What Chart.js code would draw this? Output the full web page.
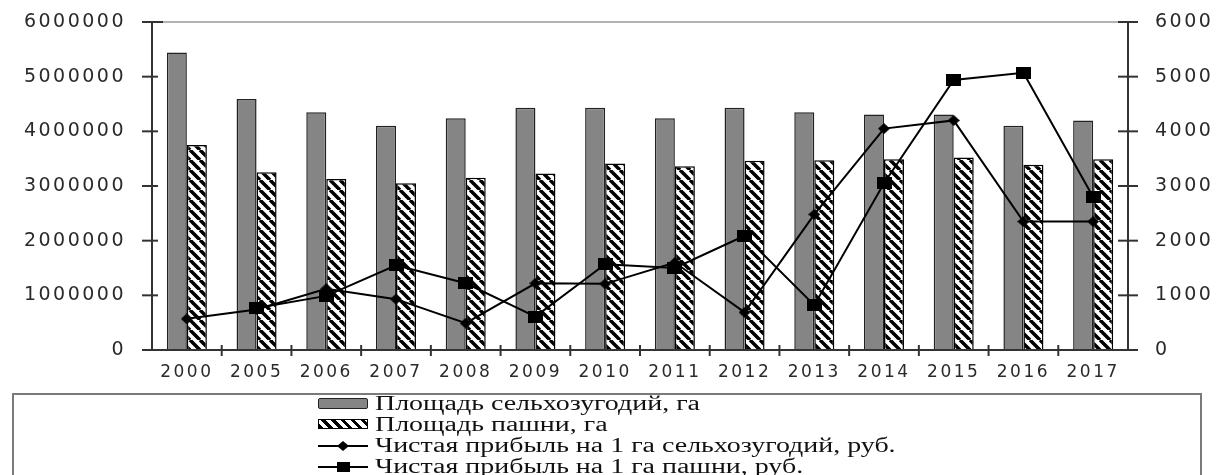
<!DOCTYPE html>
<html>
<head>
<meta charset="utf-8">
<script src="https://cdn.jsdelivr.net/npm/chart.js@4.4.1/dist/chart.umd.min.js"></script>
<style>
    html, body { margin: 0; padding: 0; background: #fff; }
    #wrap   { position: relative; width: 1221px; height: 475px; overflow: hidden; }
    #box    { position: absolute; left: 0; top: 0; width: 1221px; height: 393px; }
    #legend { position: absolute; left: 12px; top: 393px; width: 1190px; height: 100px;
              border: 2px solid #7a7a7a; box-sizing: border-box; }
    .item   { position: absolute; left: 304px; height: 21px; display: flex; align-items: center;
              font: 20px 'Liberation Serif', serif; color: #111; white-space: nowrap; }
    .icon   { width: 50px; height: 14px; margin-right: 7px; flex: none; }
    .txt    { display: inline-block; transform-origin: left center; }
</style>
</head>
<body>
<div id="wrap">
    <div id="box"><canvas id="chart"></canvas></div>
    <div id="legend"></div>
</div>
<script>
/* ── Données ─────────────────────────────────────────────────── */
const years       = ['2000', '2005', '2006', '2007', '2008', '2009', '2010',
                     '2011', '2012', '2013', '2014', '2015', '2016', '2017'];
const areaAgri    = [5440000, 4590000, 4350000, 4100000, 4240000, 4430000, 4430000,
                     4240000, 4430000, 4350000, 4310000, 4310000, 4100000, 4200000];
const areaArable  = [3750000, 3250000, 3130000, 3050000, 3150000, 3230000, 3410000,
                     3360000, 3460000, 3470000, 3490000, 3520000, 3390000, 3490000];
const profitAgri  = [570, 740, 1120, 930, 490, 1220, 1210,
                     1600, 690, 2480, 4050, 4200, 2350, 2350];
const profitArable = [null, 770, 990, 1550, 1220, 610, 1570,
                      1500, 2090, 820, 3050, 4940, 5070, 2800];
const leftTicks   = [0, 1000000, 2000000, 3000000, 4000000, 5000000, 6000000];
const rightTicks  = [0, 1000, 2000, 3000, 4000, 5000, 6000];
const labels      = ['Площадь сельхозугодий, га',
                     'Площадь пашни,  га',
                     'Чистая прибыль на 1 га сельхозугодий, руб.',
                     'Чистая прибыль на 1 га пашни, руб.'];

/* ── Motifs et marqueurs ─────────────────────────────────────── */
function hatchPattern() {
    const c = document.createElement('canvas');
    c.width = 10; c.height = 10;
    const g = c.getContext('2d');
    g.fillStyle = '#fff';
    g.fillRect(0, 0, 10, 10);
    g.strokeStyle = '#000';
    g.lineWidth = 3.5;
    g.beginPath();
    for (const o of [-10, 0, 10]) { g.moveTo(o, 0); g.lineTo(o + 10, 10); }
    g.stroke();
    return g.createPattern(c, 'repeat');
}

function marker(w, h, diamond) {
    const c = document.createElement('canvas');
    c.width = w; c.height = h;
    const g = c.getContext('2d');
    g.fillStyle = '#000';
    if (diamond) {
        g.beginPath();
        g.moveTo(w / 2, 0); g.lineTo(w, h / 2); g.lineTo(w / 2, h); g.lineTo(0, h / 2);
        g.closePath(); g.fill();
    } else {
        g.fillRect(0, 0, w, h);
    }
    return c;
}

/* ── Axes dessinés à la main (traits qui croisent l'axe) ─────── */
const framePlugin = {
    id: 'frame',
    beforeDraw(chart) { chart.ctx.letterSpacing = '2.5px'; },
    afterDatasetsDraw(chart) {
        const { ctx, chartArea: a, scales } = chart;
        const seg = (x1, y1, x2, y2) => { ctx.beginPath(); ctx.moveTo(x1, y1); ctx.lineTo(x2, y2); ctx.stroke(); };
        ctx.save();
        ctx.strokeStyle = '#9a9a9a';
        ctx.lineWidth = 1.5;
        seg(a.left, a.top, a.right, a.top);
        ctx.strokeStyle = '#333';
        ctx.lineWidth = 2;
        seg(a.left, a.top, a.left, a.bottom);
        seg(a.right, a.top, a.right, a.bottom);
        seg(a.left, a.bottom, a.right, a.bottom);
        leftTicks.forEach(v => {
            const y = scales.y.getPixelForValue(v);
            seg(a.left - 10, y, a.left + (v === leftTicks[leftTicks.length - 1] ? 11 : 6), y);
        });
        rightTicks.forEach(v => {
            const y = scales.y1.getPixelForValue(v);
            seg(a.right - 10, y, a.right + 10, y);
        });
        for (let i = 1; i < years.length; i++) {
            const x = (scales.x.getPixelForValue(i - 1) + scales.x.getPixelForValue(i)) / 2;
            seg(x, a.bottom - 5, x, a.bottom + 6);
        }
        ctx.restore();
    }
};

const tickFont = { family: "'DejaVu Sans', sans-serif", size: 19 };
const hatch = hatchPattern();
const diamond = marker(12, 11, true);
const square = marker(15, 12, false);
const plain = v => String(v);

const chart = new Chart(document.getElementById('chart'), {
    type: 'bar',
    data: {
        labels: years,
        datasets: [
            {
                label: labels[3], type: 'line', data: profitArable, yAxisID: 'y1', order: 0,
                borderColor: '#000', borderWidth: 2, tension: 0,
                pointStyle: square, pointRadius: 7
            },
            {
                label: labels[2], type: 'line', data: profitAgri, yAxisID: 'y1', order: 1,
                borderColor: '#000', borderWidth: 2, tension: 0,
                pointStyle: diamond, pointRadius: 6
            },
            {
                label: labels[0], data: areaAgri, yAxisID: 'y', order: 2,
                backgroundColor: '#858585', borderColor: '#222', borderWidth: 1.5,
                categoryPercentage: 0.574, barPercentage: 1
            },
            {
                label: labels[1], data: areaArable, yAxisID: 'y', order: 3,
                backgroundColor: hatch, borderColor: '#000', borderWidth: 1.5,
                categoryPercentage: 0.574, barPercentage: 1
            }
        ]
    },
    options: {
        responsive: true,
        maintainAspectRatio: false,
        animation: false,
        layout: { padding: { top: 22, left: 0, right: 0, bottom: 0 } },
        scales: {
            x: {
                grid:   { display: false, drawTicks: false },
                border: { display: false },
                ticks:  { color: '#2a2a2a', font: { family: tickFont.family, size: 17 },
                          padding: 12, maxRotation: 0, autoSkip: false },
                afterFit(s) { s.height = 43; s.paddingLeft = 0; s.paddingRight = 0; }
            },
            y: {
                position: 'left', min: 0, max: 6000000,
                grid:   { display: false, drawTicks: false },
                border: { display: false },
                ticks:  { stepSize: 1000000, color: '#2a2a2a', font: tickFont, padding: 26, callback: plain },
                afterFit(s) { s.width = 152; s.paddingTop = 0; s.paddingBottom = 0; }
            },
            y1: {
                position: 'right', min: 0, max: 6000,
                grid:   { display: false, drawTicks: false },
                border: { display: false },
                ticks:  { stepSize: 1000, color: '#2a2a2a', font: tickFont, padding: 27, callback: plain },
                afterFit(s) { s.width = 93; s.paddingTop = 0; s.paddingBottom = 0; }
            }
        },
        plugins: { legend: { display: false }, tooltip: { enabled: false } }
    },
    plugins: [framePlugin]
});

/* ── Légende HTML encadrée ───────────────────────────────────── */
const legendIcons = [
    '<span class="icon" style="display:inline-block;height:9px;width:48px;background:#858585;border:1px solid #222;border-radius:2px"></span>',
    '<span class="icon" style="display:inline-block;height:8px;width:48px;border:1px solid #000;background:repeating-linear-gradient(45deg,#000 0 3px,#fff 3px 7px)"></span>',
    '<svg class="icon" viewBox="0 0 50 14"><line x1="0" y1="7" x2="50" y2="7" stroke="#000" stroke-width="2"/><path d="M25 2 L31 7 L25 12 L19 7 Z"/></svg>',
    '<svg class="icon" viewBox="0 0 50 14"><line x1="0" y1="7" x2="50" y2="7" stroke="#000" stroke-width="2"/><rect x="19" y="2" width="13" height="10"/></svg>'
];
const legend = document.getElementById('legend');
labels.forEach((t, i) => {
    const row = document.createElement('div');
    row.className = 'item';
    row.style.top = (-2.5 + i * 21.3) + 'px';
    row.innerHTML = legendIcons[i] + '<span class="txt">' + t + '</span>';
    legend.appendChild(row);
});
// texte étiré horizontalement comme dans l'original (1re ligne ≈ 325 px)
const txts = [...legend.querySelectorAll('.txt')];
const k = 325 / txts[0].getBoundingClientRect().width;
txts.forEach(s => { s.style.transform = 'scaleX(' + k + ')'; });
</script>
</body>
</html>
